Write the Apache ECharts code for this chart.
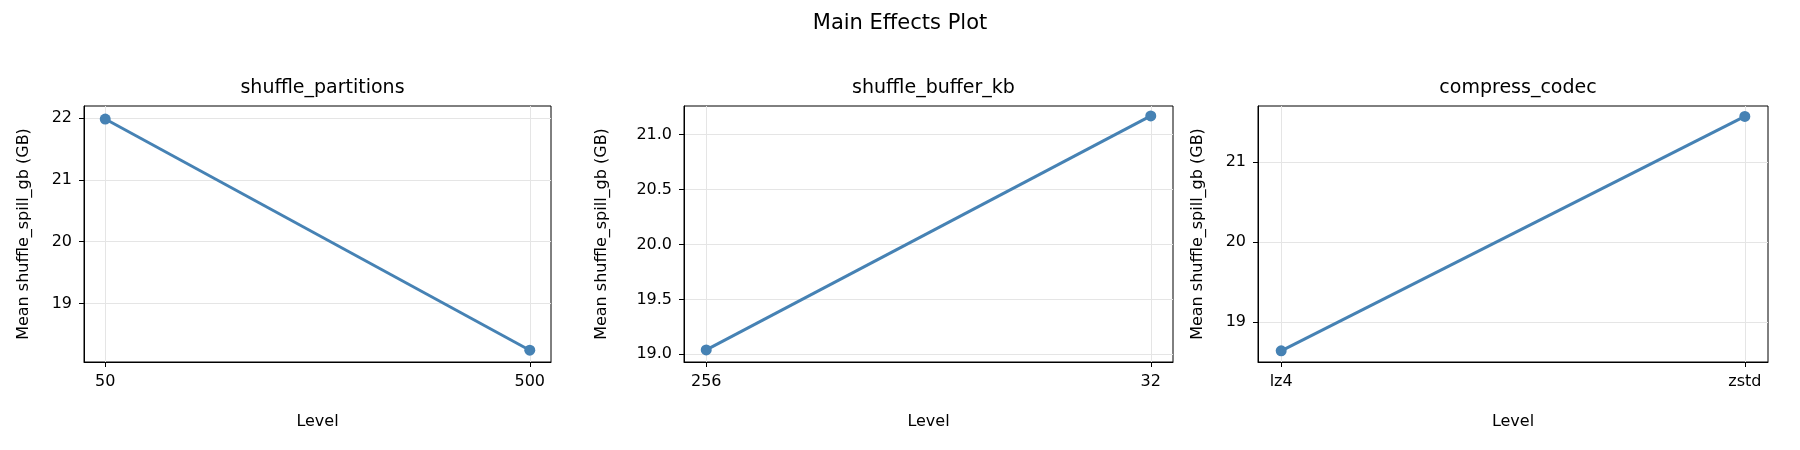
<!DOCTYPE html>
<html><head><meta charset="utf-8">
<script src="https://cdn.jsdelivr.net/npm/echarts@6/dist/echarts.min.js"></script>
<style>html,body{margin:0;padding:0;background:#fff}#c{width:1800px;height:450px}</style>
</head><body><div id="c"></div>
<script>
const titles = ['shuffle_partitions', 'shuffle_buffer_kb', 'compress_codec'];
const levels = [['50', '500'], ['256', '32'], ['lz4', 'zstd']];
const means = [[21.98, 18.25], [19.04, 21.17], [18.64, 21.57]];
const yTicks = [[19, 20, 21, 22], [19.0, 19.5, 20.0, 20.5, 21.0], [19, 20, 21]];
const yRange = [[18.06, 22.19], [18.93, 21.26], [18.50, 21.70]];
const yDigits = [0, 1, 0];

const lefts = [84, 684, 1258];
const widths = [467, 489, 510];
const font = 'DejaVu Sans';

const chart = echarts.init(document.getElementById('c'));
const grid = [], xAxis = [], yAxis = [], series = [], title = [{
    text: 'Main Effects Plot', left: 'center', top: 8,
    textStyle: {fontFamily: font, fontSize: 21, fontWeight: 'normal', color: '#000'}
}];
for (let i = 0; i < 3; i++) {
    grid.push({left: lefts[i], width: widths[i], top: 106, height: 256,
        show: true, borderColor: '#000', borderWidth: 1});
    title.push({
        text: titles[i], left: lefts[i] + widths[i] / 2, top: 74, textAlign: 'center',
        textStyle: {fontFamily: font, fontSize: 19, fontWeight: 'normal', color: '#000'}
    });
    const lv = levels[i];
    xAxis.push({
        type: 'value', gridIndex: i, min: -0.05, max: 1.05,
        name: 'Level', nameLocation: 'middle', nameGap: 52,
        nameTextStyle: {fontFamily: font, fontSize: 16, color: '#000'},
        axisLine: {onZero: false, lineStyle: {color: '#000'}},
        axisTick: {show: true, customValues: [0, 1], length: 5, lineStyle: {color: '#000'}},
        axisLabel: {customValues: [0, 1], margin: 12, fontFamily: font, fontSize: 16, color: '#000',
            formatter: v => lv[Math.round(v)]},
        splitLine: {show: true, lineStyle: {color: '#e5e5e5'}}
    });
    const d = yDigits[i];
    yAxis.push({
        type: 'value', gridIndex: i, min: yRange[i][0], max: yRange[i][1],
        name: 'Mean shuffle_spill_gb (GB)', nameLocation: 'middle', nameGap: d ? 74 : 52,
        nameTextStyle: {fontFamily: font, fontSize: 16, color: '#000'},
        axisLine: {show: true, onZero: false, lineStyle: {color: '#000'}},
        axisTick: {show: true, customValues: yTicks[i], length: 5, lineStyle: {color: '#000'}},
        axisLabel: {customValues: yTicks[i], margin: 12, fontFamily: font, fontSize: 16, color: '#000',
            formatter: v => v.toFixed(d)},
        splitLine: {show: true, lineStyle: {color: '#e5e5e5'}}
    });
    series.push({
        type: 'line', xAxisIndex: i, yAxisIndex: i,
        data: means[i].map((v, j) => [j, v]),
        symbol: 'circle', symbolSize: 11,
        lineStyle: {color: '#4682b4', width: 3},
        itemStyle: {color: '#4682b4'},
        animation: false
    });
}
chart.setOption({title, grid, xAxis, yAxis, series});
</script></body></html>
